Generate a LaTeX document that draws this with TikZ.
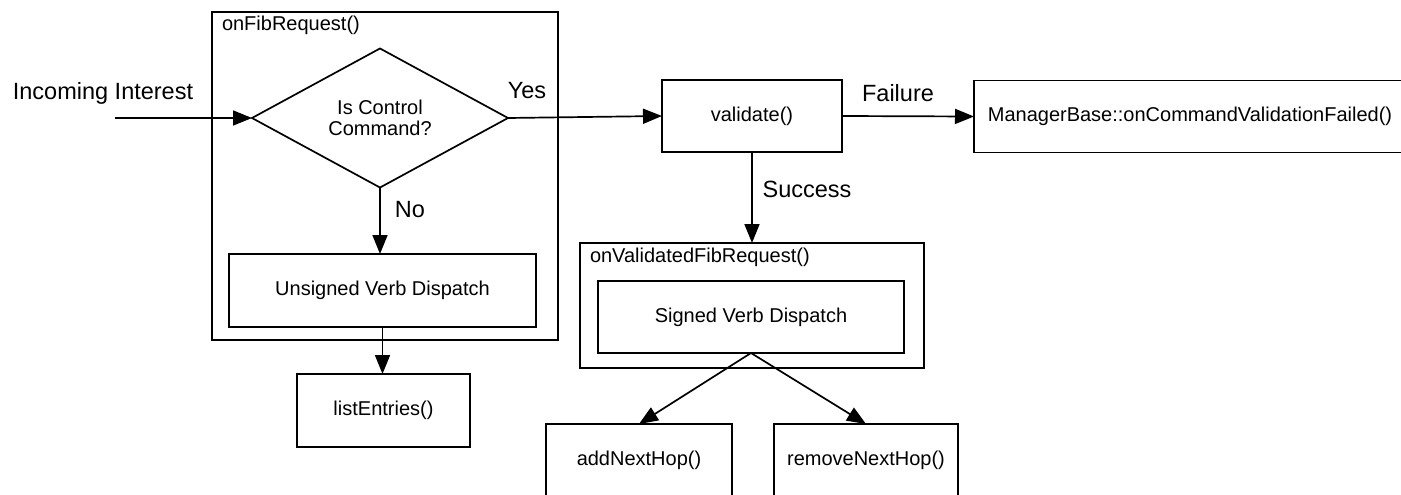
\documentclass[tikz,border=0pt]{standalone}
\usepackage{fontspec}
\setmainfont{Liberation Sans}
\usetikzlibrary{arrows.meta,shapes.geometric}
\begin{document}
\begin{tikzpicture}[x=1pt,y=-1pt,
  every node/.style={font=\fontsize{20}{21}\selectfont, inner sep=0pt, outer sep=0pt},
  box/.style={draw, line width=1.7pt, rectangle, align=center},
  dia/.style={draw, line width=1.7pt, diamond, align=center},
  lbl/.style={font=\fontsize{23.5}{26}\selectfont},
  arr/.style={-{Triangle[length=19pt,width=15pt]}, line width=1.7pt},
  ]
\useasboundingbox (0,0) rectangle (1401,495);
\fill[white] (0,0) rectangle (1401,495);
\clip (0,0) rectangle (1401,495);

% containers
\node[box, minimum width=346pt, minimum height=328pt] (fib) at (385,176) {};
\node[anchor=west] (fibl) at (222,25) {onFibRequest()};
\node[box, minimum width=344pt, minimum height=125pt] (ovf) at (752,305.5) {};
\node[anchor=west] (ovfl) at (590,257) {onValidatedFibRequest()};

% process nodes
\node[dia, minimum width=256pt, minimum height=135pt] (dec) at (380,118) {Is Control\\Command?};
\node[box, minimum width=307pt, minimum height=73pt] (uns) at (382.5,290.5) {Unsigned Verb Dispatch};
\node[box, minimum width=173pt, minimum height=73pt] (list) at (383.5,410.5) {listEntries()};
\node[box, minimum width=180pt, minimum height=72pt] (val) at (752,116) {validate()};
\node[box, minimum width=432pt, minimum height=72pt] (mgr) at (1190,116.5) {ManagerBase::onCommandValidationFailed()};
\node[box, minimum width=306pt, minimum height=72pt] (sig) at (751,317) {Signed Verb Dispatch};
\node[box, minimum width=186pt, minimum height=72pt] (add) at (639,460) {addNextHop()};
\node[box, minimum width=184pt, minimum height=72pt] (rem) at (866,460) {removeNextHop()};

% labels
\node[lbl] (inc) at (103,93) {Incoming Interest};
\node[lbl] (yes) at (527,91) {Yes};
\node[lbl] (fail) at (898,93) {Failure};
\node[lbl] (succ) at (807,189) {Success};
\node[lbl] (no) at (410,210) {No};

% connectors
\coordinate (start) at (115,118);
\draw[arr] (start) -- (dec.west);
\draw[arr] (dec.east) -- (val.west);
\draw[arr] (val.east) -- (mgr.west);
\draw[arr] (val.south) -- (val.south |- ovf.north);
\draw[arr] (dec.south) -- (dec.south |- uns.north);
\draw[arr] (uns.south) -- (uns.south |- list.north);
\draw[arr] (sig.south) -- (add.north);
\draw[arr] (sig.south) -- (rem.north);
\end{tikzpicture}
\end{document}
